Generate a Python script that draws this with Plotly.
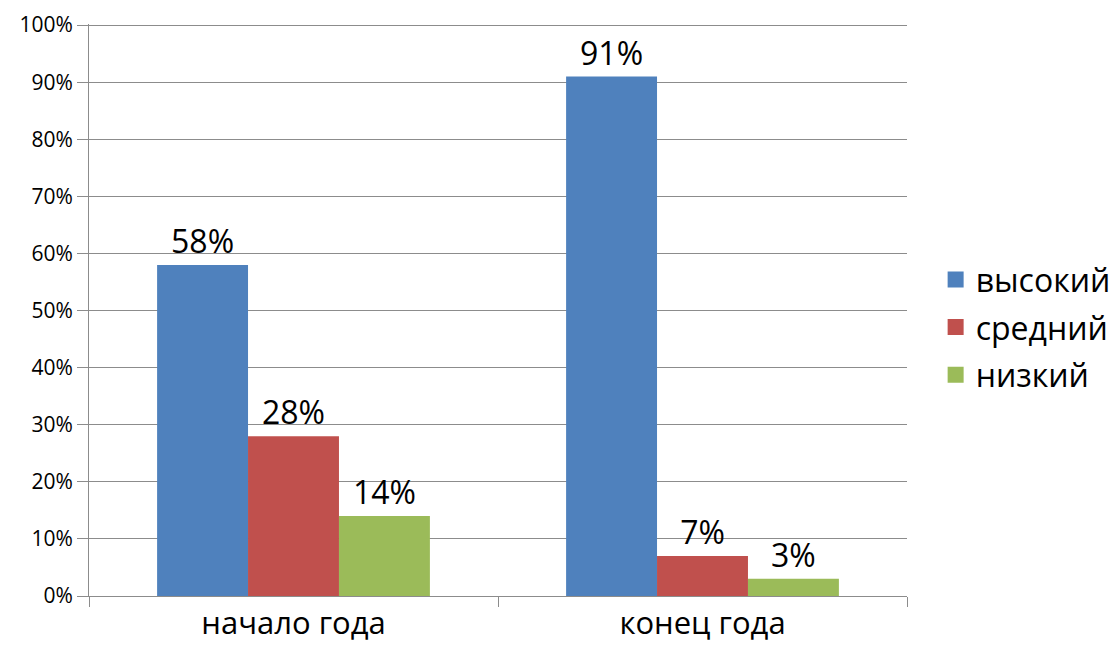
import plotly.graph_objects as go

categories = ["начало года", "конец года"]
series_names = ["высокий", "средний", "низкий"]
vysokiy = [0.58, 0.91]
sredniy = [0.28, 0.07]
nizkiy = [0.14, 0.03]
colors = ["#4F81BD", "#C0504D", "#9BBB59"]
tick_vals = [i / 10 for i in range(11)]
tick_text = [f"{i*10}%" for i in range(11)]

fig = go.Figure()
for name, vals, col in zip(series_names, [vysokiy, sredniy, nizkiy], colors):
    fig.add_trace(go.Bar(
        x=categories, y=vals, name=name, marker=dict(color=col, line=dict(width=0)),
        text=[f"{round(v*100)}%" for v in vals], textposition="outside",
        textfont=dict(size=32, color="#000"), cliponaxis=False, showlegend=False,
    ))
for name, col in zip(series_names, colors):
    fig.add_trace(go.Scatter(
        x=[None], y=[None], mode="markers", name=name, legendgroup=name,
        marker=dict(symbol="square", size=16, color=col),
    ))

fig.update_layout(
    barmode="group", bargap=0.333, bargroupgap=0,
    width=1117, height=650,
    margin=dict(l=81, r=218, t=16, b=62, autoexpand=False),
    plot_bgcolor="white", paper_bgcolor="white",
    font=dict(family="Open Sans", color="#000"),
    legend=dict(x=1.035, y=0.47, xanchor="left", yanchor="middle",
                font=dict(size=32), itemwidth=30, tracegroupgap=3),
    showlegend=True,
)
fig.update_yaxes(range=[0, 1.002], tickvals=tick_vals, ticktext=tick_text,
                 showgrid=True, gridcolor="#8c8c8c", gridwidth=1,
                 showline=True, linecolor="#8c8c8c", linewidth=1,
                 ticks="outside", ticklen=11, tickcolor="#8c8c8c",
                 tickfont=dict(size=21), zeroline=False, automargin=False,
                 ticklabeloverflow="allow")
fig.update_xaxes(showline=True, linecolor="#8c8c8c", linewidth=1,
                 ticks="outside", tickson="boundaries", ticklen=10, tickcolor="#8c8c8c",
                 tickfont=dict(size=31), automargin=False)

fig.write_html("out.html")
